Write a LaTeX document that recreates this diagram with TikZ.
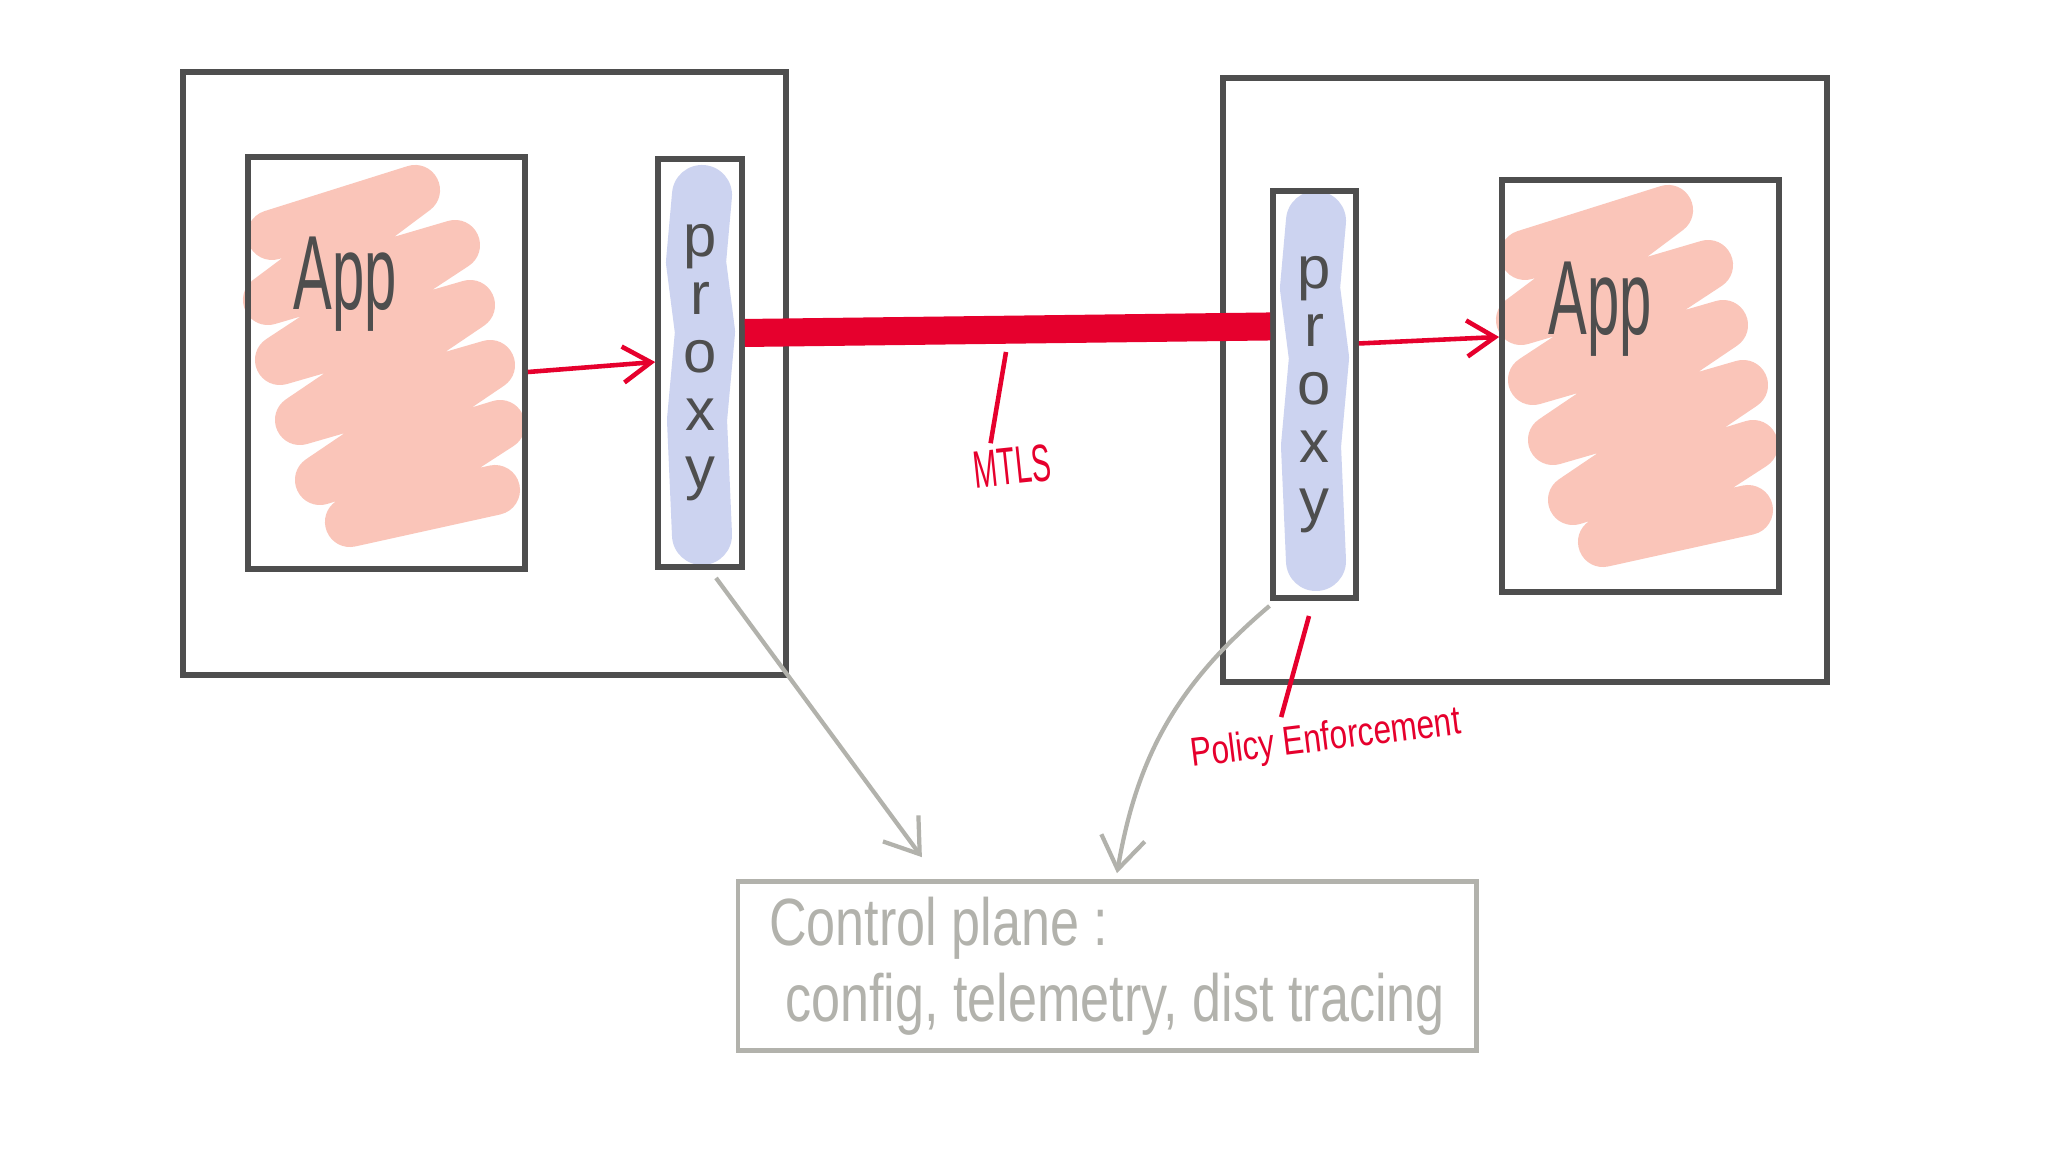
\documentclass[tikz,border=0pt]{standalone}
\usepackage{fontspec}
\setmainfont{Liberation Sans}
\newfontfamily\handfont[FakeStretch=0.78]{Liberation Sans}
\newfontfamily\narrowfont[FakeStretch=0.55]{Liberation Sans}
\usetikzlibrary{arrows.meta}
\definecolor{boxgray}{RGB}{78,78,78}
\definecolor{inkred}{RGB}{230,0,45}
\definecolor{cpgray}{RGB}{178,178,172}
\definecolor{washred}{RGB}{246,150,128}
\definecolor{washblue}{RGB}{178,188,232}
\tikzset{
  box/.style={draw=boxgray,line width=1.6pt,inner sep=0pt},
  podbox/.style={box,minimum width=6.03cm,minimum height=6.03cm},
  appbox/.style={box,minimum width=2.77cm,minimum height=4.12cm},
  proxybox/.style={box,minimum width=0.84cm,minimum height=4.08cm,align=center,text=boxgray,font=\fontsize{17}{16.5}\selectfont},
  apptext/.style={text=boxgray,font=\narrowfont\fontsize{30}{32}\selectfont},
  redtext/.style={text=inkred,inner sep=1pt},
  ink/.style={inkred,line width=1.3pt,-{Straight Barb[length=2.8mm,width=3.6mm]}},
  cparrow/.style={cpgray,line width=1.2pt,-{Straight Barb[length=3.2mm,width=4.4mm]}},
  appwash/.style={washred,opacity=0.55,line width=0.5cm,line cap=round,line join=round},
  proxywash/.style={washblue,opacity=0.65,line width=0.6cm,line cap=round,line join=round}
}
\begin{document}
\begin{tikzpicture}[x=0.01cm,y=-0.01cm]
\fill[white] (0,0) rectangle (2048,1152);
\useasboundingbox (0,0) rectangle (2048,1152);

\foreach \dx/\dy in {0/0,1253/20}
\draw[appwash,shift={(\dx,\dy)}] (272,235) -- (415,190) -- (268,300) -- (455,245) -- (280,360) -- (470,305) -- (300,420) -- (490,365) -- (320,480) -- (500,425) -- (350,522) -- (495,490);
\foreach \dx/\dy in {0/0,614/26}
\draw[proxywash,shift={(\dx,\dy)}] (702,195) -- (696,262) -- (705,332) -- (697,420) -- (702,535);

\node[podbox] (lpod) at (484.5,373.5) {};
\node[appbox] (lapp) at (386.5,363) {};
\node[proxybox] (lproxy) at (700,363) {p\\r\\o\\x\\y};
\node[podbox,minimum width=6.04cm,minimum height=6.04cm] (rpod) at (1525,380) {};
\node[proxybox,minimum width=0.83cm,minimum height=4.07cm] (rproxy) at (1314.5,394.5) {p\\r\\o\\x\\y};
\node[appbox] (rapp) at (1640.5,386) {};
\node[apptext] (lapptext) at (345,284) {App};
\node[apptext] (rapptext) at (1600,309) {App};

\node[box,draw=cpgray,line width=1.3pt,minimum width=7.38cm,minimum height=1.69cm,align=left,text=cpgray,font=\handfont\fontsize{19}{21.5}\selectfont] (cp) at (1107,966) {Control plane :\\\hspace{0.16cm}config, telemetry, dist tracing};

\draw[ink] ([yshift=-0.09cm]lapp.east) -- ([yshift=0.01cm]lproxy.west);
\draw[ink] ([yshift=0.51cm]rproxy.east) -- ([yshift=0.49cm]rapp.west);
\draw[inkred,line width=0.28cm] ([yshift=0.3cm]lproxy.east) -- ([yshift=0.68cm]rproxy.west);

\coordinate (mtlstip) at (1006,352);
\node[redtext,rotate=6,font=\narrowfont\fontsize{15}{17}\selectfont] (mtls) at (1012,466) {MTLS};
\draw[inkred,line width=1.3pt] (mtlstip) -- ([xshift=-0.19cm]mtls.north);

\coordinate (policytip) at (1309,616);
\node[redtext,rotate=7,font=\handfont\fontsize{11.5}{13}\selectfont] (policy) at (1326,740) {Policy Enforcement};
\draw[inkred,line width=1.3pt] (policytip) -- ([xshift=-0.42cm]policy.north);

\draw[cparrow] ([xshift=0.16cm,yshift=-0.08cm]lproxy.south) -- ([xshift=-1.85cm,yshift=0.22cm]cp.north);
\draw[cparrow] ([xshift=-0.45cm,yshift=-0.05cm]rproxy.south) to[bend right=20] ([xshift=0.1cm,yshift=0.06cm]cp.north);
\end{tikzpicture}
\end{document}
